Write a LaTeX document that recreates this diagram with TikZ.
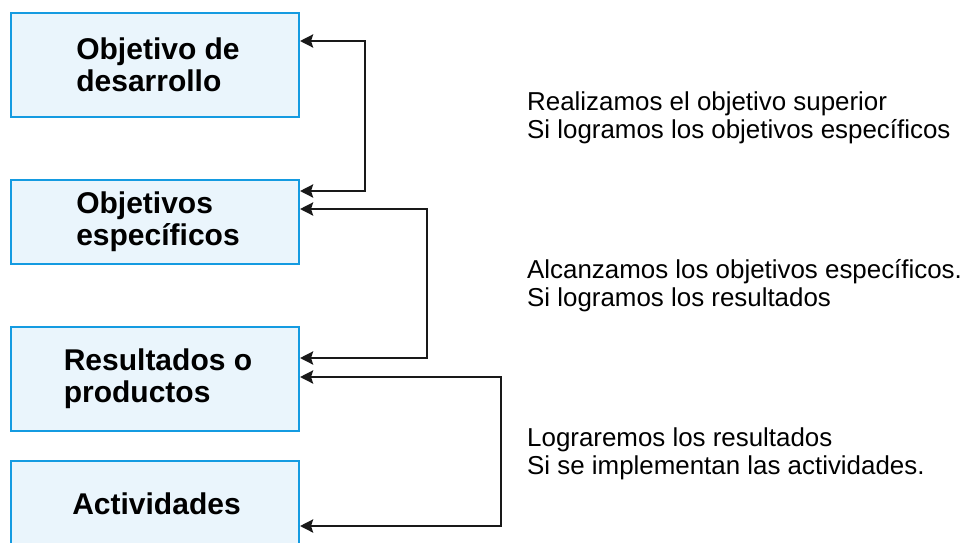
\documentclass[tikz,border=0pt]{standalone}
\usepackage{fontspec}
\setmainfont{Liberation Sans}
\usetikzlibrary{arrows.meta}
\definecolor{boxfill}{RGB}{234,245,252}
\definecolor{boxline}{RGB}{20,155,225}
\begin{document}
\begin{tikzpicture}[x=1pt,y=-1pt,
        every node/.style={inner sep=0pt},
        nivel/.style={draw=boxline,fill=boxfill,line width=2pt,
            minimum width=288pt,align=left,
            font=\fontsize{30}{32}\selectfont\bfseries},
        nota/.style={anchor=north west,align=left,
            font=\fontsize{25.9}{28}\selectfont},
        flecha/.style={line width=2.6pt,draw=black!90,line join=miter,
            {Stealth[length=13pt,width=13pt,inset=2pt]}-{Stealth[length=13pt,width=13pt,inset=2pt]}}]
        \useasboundingbox (0,0) rectangle (968,542);
        % cajas
        \node[nivel,minimum height=104pt] (obj) at (155,64.5) {\hspace*{6pt}Objetivo de\\\hspace*{6pt}desarrollo};
        \node[nivel,minimum height=84pt] (esp) at (155,221.5) {\hspace*{6pt}Objetivos\\\hspace*{6pt}espec\'ificos};
        \node[nivel,minimum height=104pt] (res) at (155,378.5) {\hspace*{6pt}Resultados o\\\hspace*{6pt}productos};
        \node[nivel,minimum height=86pt] (act) at (155,504) {\hspace*{3pt}Actividades};
        % textos
        \node[nota] (t1) at (527,92) {Realizamos el objetivo superior\\Si logramos los objetivos espec\'ificos};
        \node[nota] (t2) at (527,259) {Alcanzamos los objetivos espec\'ificos.\\Si logramos los resultados};
        \node[nota] (t3) at (527,428) {Lograremos los resultados\\Si se implementan las actividades.};
        % flechas
        \draw[flecha] ([yshift=23.5pt]obj.east) -- ++(65,0) |- ([yshift=30.5pt]esp.east);
        \draw[flecha] ([yshift=12.5pt]esp.east) -- ++(127,0) |- ([yshift=20.5pt]res.east);
        \draw[flecha] ([yshift=1.5pt]res.east) -- ++(201,0) |- ([yshift=-22pt]act.east);
    \end{tikzpicture}
\end{document}
